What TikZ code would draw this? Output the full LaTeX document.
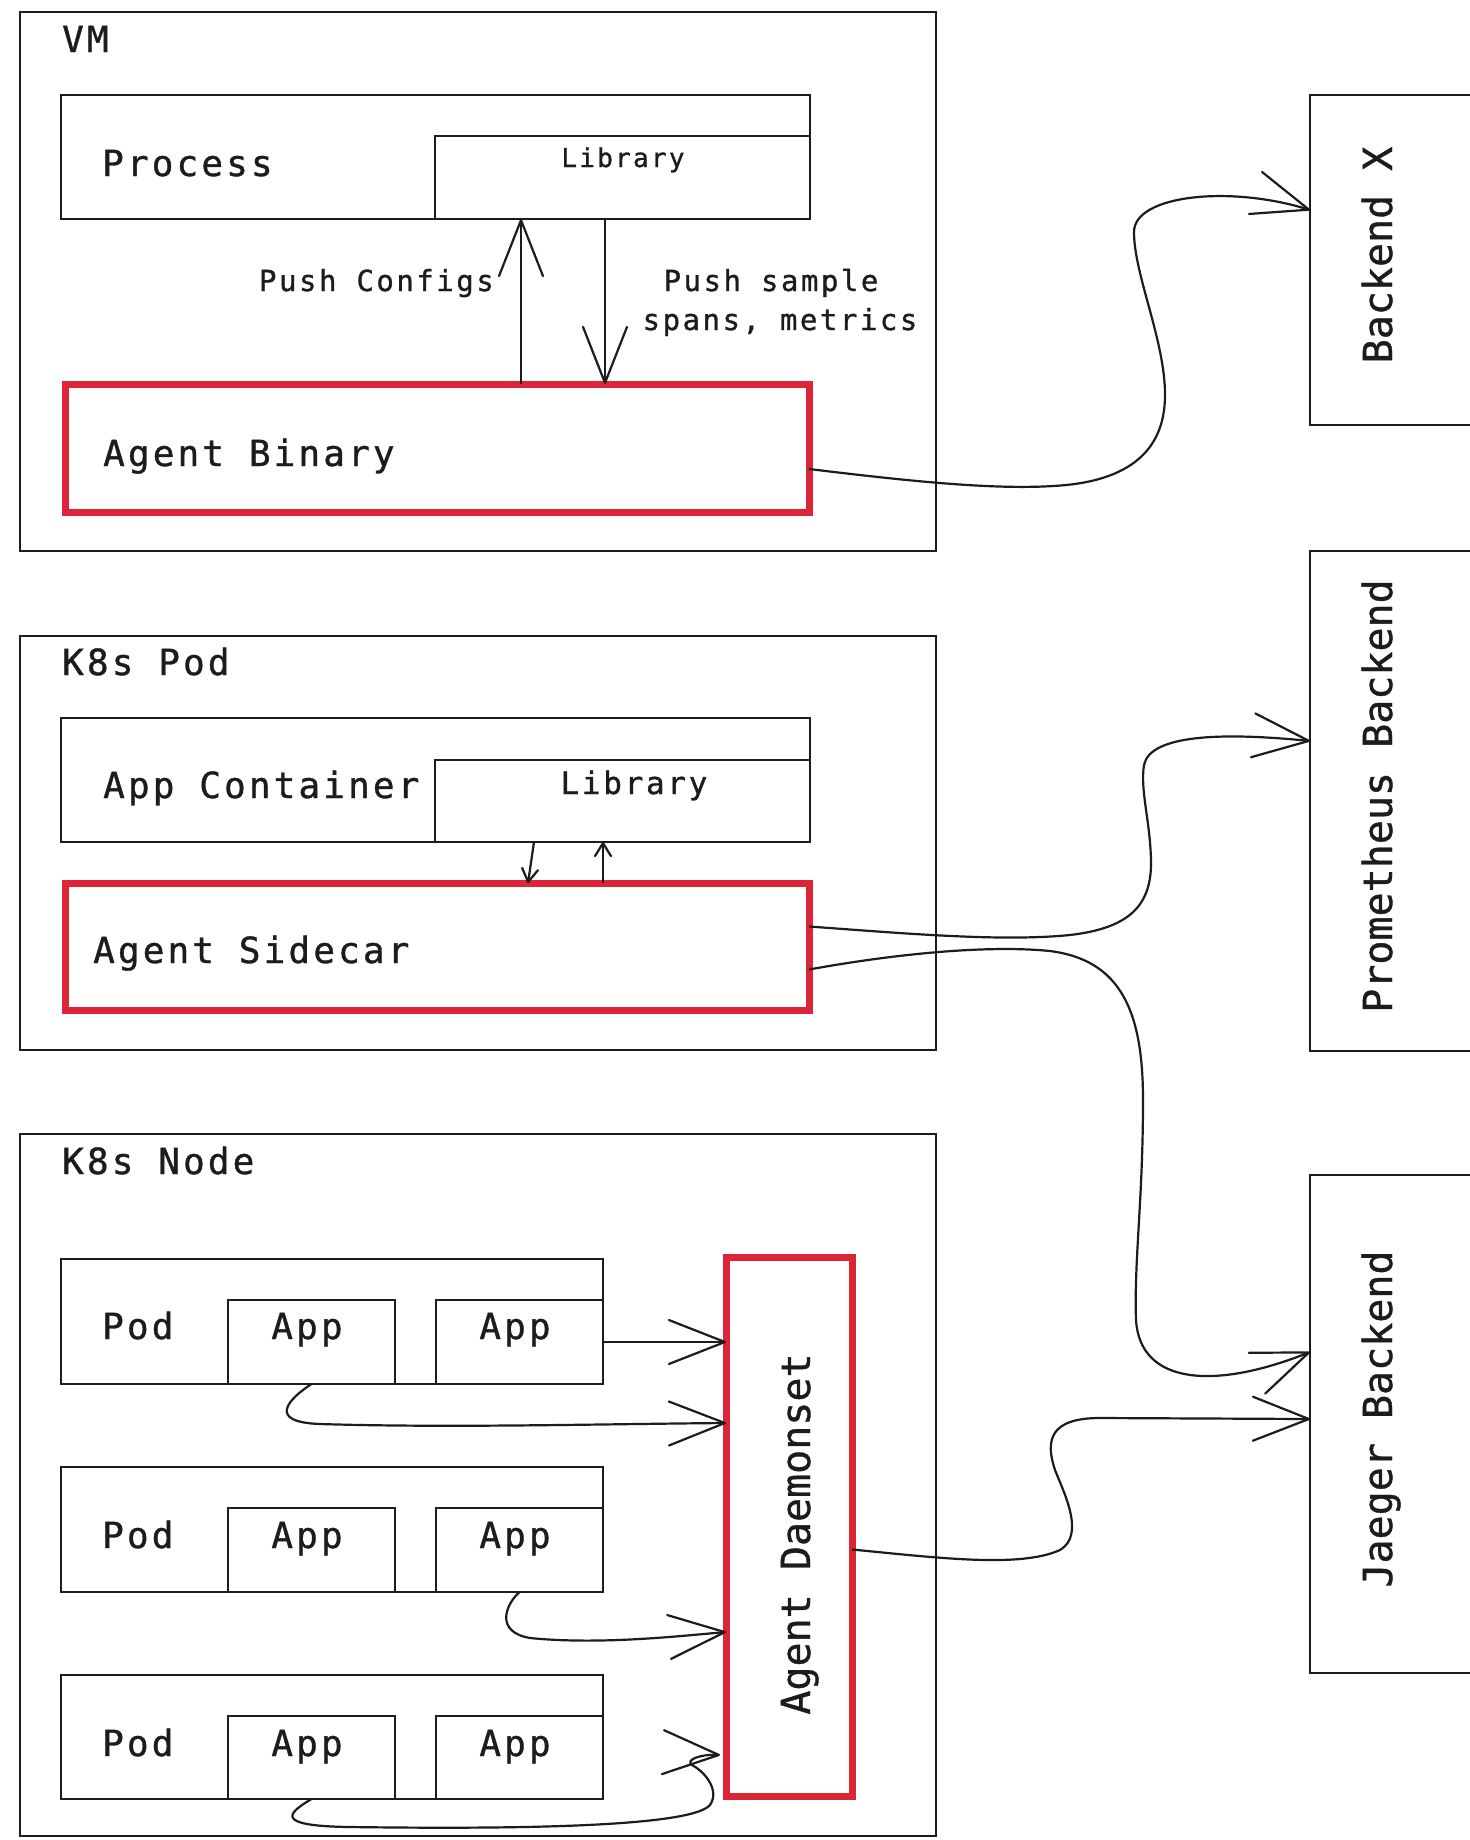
\documentclass[tikz,border=0pt]{standalone}
\usepackage{fontspec}
\usetikzlibrary{arrows.meta,calc,fit}
\newfontfamily\hmono[LetterSpace=8.7,FakeBold=1.0]{DejaVu Sans Mono}
\newfontfamily\vmono[FakeBold=0.9]{DejaVu Sans Mono}
\definecolor{agentred}{RGB}{220,38,56}
\definecolor{ink}{RGB}{28,28,28}
\begin{document}
\begin{tikzpicture}[x=1pt,y=-1pt,
  box/.style={draw=ink, line width=2.8pt, inner sep=0pt, outer sep=0pt, fit={#1}},
  redbox/.style={draw=agentred, line width=7pt, inner sep=0pt, outer sep=0pt, fit={#1}},
  lab/.style={font=\hmono\fontsize{36}{40}\selectfont, text=ink, inner sep=0pt, anchor=base west},
  smalllab/.style={font=\hmono\fontsize{29}{34}\selectfont, text=ink, inner sep=0pt},
  vlab/.style={font=\vmono\fontsize{40}{44}\selectfont, text=ink, inner sep=0pt, rotate=90, anchor=base},
  arr/.style={draw=ink, line width=2.2pt, -{Straight Barb[length=56pt,width=44pt,round]}},
  sarr/.style={draw=ink, line width=2.2pt, -{Straight Barb[length=13pt,width=16pt,round]}}
]
\fill[white] (0,0) rectangle (1470,1840);
\useasboundingbox (0,0) rectangle (1470,1840);

% ---------------- VM ----------------
\node[box={(20,12) (936,551)}] (vm) {};
\node[lab] (vmt) at (62,52) {VM};
\node[box={(61,95) (810,219)}] (proc) {};
\node[lab] (proct) at (102,176) {Process};
\node[box={(435,136) (810,219)}] (lib1) {};
\node[smalllab, anchor=base, font=\hmono\fontsize{26}{30}\selectfont] (lib1t) at (623,167) {Library};
\node[redbox={(65,384) (809,512)}] (agentbin) {};
\node[lab] (agentbint) at (103,466) {Agent Binary};
\node[smalllab, anchor=base east] (pusht) at (494,291) {Push Configs};
\node[smalllab, anchor=base] (ps1) at (771,291) {Push sample};
\node[smalllab, anchor=base] (ps2) at (780,330) {spans, metrics};
\coordinate (pcx) at (521,0);
\coordinate (psx) at (605,0);
\draw[arr] (agentbin.north -| pcx) -- (lib1.south -| pcx);
\draw[arr] (lib1.south -| psx) -- (agentbin.north -| psx);

% ---------------- K8s Pod ----------------
\node[box={(20,636) (936,1050)}] (pod) {};
\node[lab] (podt) at (62,675) {K8s Pod};
\node[box={(61,718) (810,842)}] (appc) {};
\node[lab] (appct) at (103,798) {App Container};
\node[box={(435,760) (810,842)}] (lib2) {};
\node[smalllab, anchor=base, font=\hmono\fontsize{31}{35}\selectfont] (lib2t) at (634,794) {Library};
\node[redbox={(65,883) (809,1010)}] (sidecar) {};
\node[lab] (sidecart) at (93,963) {Agent Sidecar};
\coordinate (d1) at (534,0);
\coordinate (d2) at (528,0);
\coordinate (u1) at (603,0);
\draw[sarr] (lib2.south -| d1) -- (sidecar.north -| d2);
\draw[sarr] (sidecar.north -| u1) -- (lib2.south -| u1);

% ---------------- K8s Node ----------------
\node[box={(20,1134) (936,1836)}] (node) {};
\node[lab] (nodet) at (62,1174) {K8s Node};

\node[box={(61,1259) (603,1384)}] (pod1) {};
\node[box={(228,1300) (395,1384)}] (app1a) {};
\node[box={(436,1300) (603,1384)}] (app1b) {};
\node[lab] (pod1t) at (102,1339) {Pod};
\node[lab, anchor=base] (app1at) at (307,1339) {App};
\node[lab, anchor=base] (app1bt) at (515,1339) {App};

\node[box={(61,1467) (603,1592)}] (pod2) {};
\node[box={(228,1508) (395,1592)}] (app2a) {};
\node[box={(436,1508) (603,1592)}] (app2b) {};
\node[lab] (pod2t) at (102,1548) {Pod};
\node[lab, anchor=base] (app2at) at (307,1548) {App};
\node[lab, anchor=base] (app2bt) at (515,1548) {App};

\node[box={(61,1675) (603,1799)}] (pod3) {};
\node[box={(228,1716) (395,1799)}] (app3a) {};
\node[box={(436,1716) (603,1799)}] (app3b) {};
\node[lab] (pod3t) at (102,1756) {Pod};
\node[lab, anchor=base] (app3at) at (307,1756) {App};
\node[lab, anchor=base] (app3bt) at (515,1756) {App};

\node[redbox={(726,1257) (852,1796)}] (daemon) {};
\node[vlab] (daemont) at (810,1534) {Agent Daemonset};

% ---------------- Backends ----------------
\node[box={(1310,95) (1500,425)}] (bx) {};
\node[vlab] (bxt) at (1392,255) {Backend X};
\node[box={(1310,551) (1500,1051)}] (prom) {};
\node[vlab] (promt) at (1392,796) {Prometheus Backend};
\node[box={(1310,1175) (1500,1673)}] (jaeger) {};
\node[vlab] (jaegert) at (1392,1419) {Jaeger Backend};

% ---------------- Connectors ----------------
\draw[arr] ($(agentbin.east)+(0,21)$) .. controls (900,480) and (990,490) .. (1053,486)
  .. controls (1130,482) and (1165,450) .. (1165,395)
  .. controls (1165,340) and (1134,275) .. (1134,232)
  .. controls (1134,195) and (1230,185) .. ($(bx.west)+(0,-50)$);

\draw[arr] ($(sidecar.east)+(0,-20)$) .. controls (900,933) and (1000,942) .. (1070,935)
  .. controls (1130,928) and (1152,905) .. (1151,860)
  .. controls (1150,820) and (1140,790) .. (1144,765)
  .. controls (1150,735) and (1220,732) .. ($(prom.west)+(0,-60)$);

\draw[arr] ($(sidecar.east)+(0,23)$) .. controls (900,953) and (990,945) .. (1050,951)
  .. controls (1120,960) and (1143,1010) .. (1143,1100)
  .. controls (1143,1200) and (1134,1260) .. (1136,1320)
  .. controls (1140,1385) and (1215,1390) .. ($(jaeger.west)+(0,-72)$);

\draw[arr] ($(daemon.east)+(0,23)$) .. controls (940,1558) and (1020,1568) .. (1060,1550)
  .. controls (1085,1535) and (1065,1495) .. (1055,1470)
  .. controls (1045,1440) and (1050,1418) .. (1100,1418)
  -- ($(jaeger.west)+(0,-5)$);

\draw[arr] (app1b.east) -- (app1b.east -| daemon.west);

\draw[arr] (app1a.south) .. controls (290,1398) and (265,1422) .. (320,1424)
  .. controls (450,1428) and (600,1424) .. ($(daemon.west)+(0,-103.5)$);

\draw[arr] (app2b.south) .. controls (505,1605) and (495,1632) .. (530,1638)
  .. controls (600,1645) and (680,1636) .. ($(daemon.west)+(0,105.5)$);

\draw[arr] (app3a.south) .. controls (290,1812) and (270,1826) .. (350,1827)
  .. controls (500,1829) and (690,1828) .. (710,1805)
  .. controls (720,1790) and (705,1772) .. (692,1765)
  .. controls (685,1760) and (700,1754) .. ($(daemon.west)+(-6,228.5)$);
\end{tikzpicture}
\end{document}
